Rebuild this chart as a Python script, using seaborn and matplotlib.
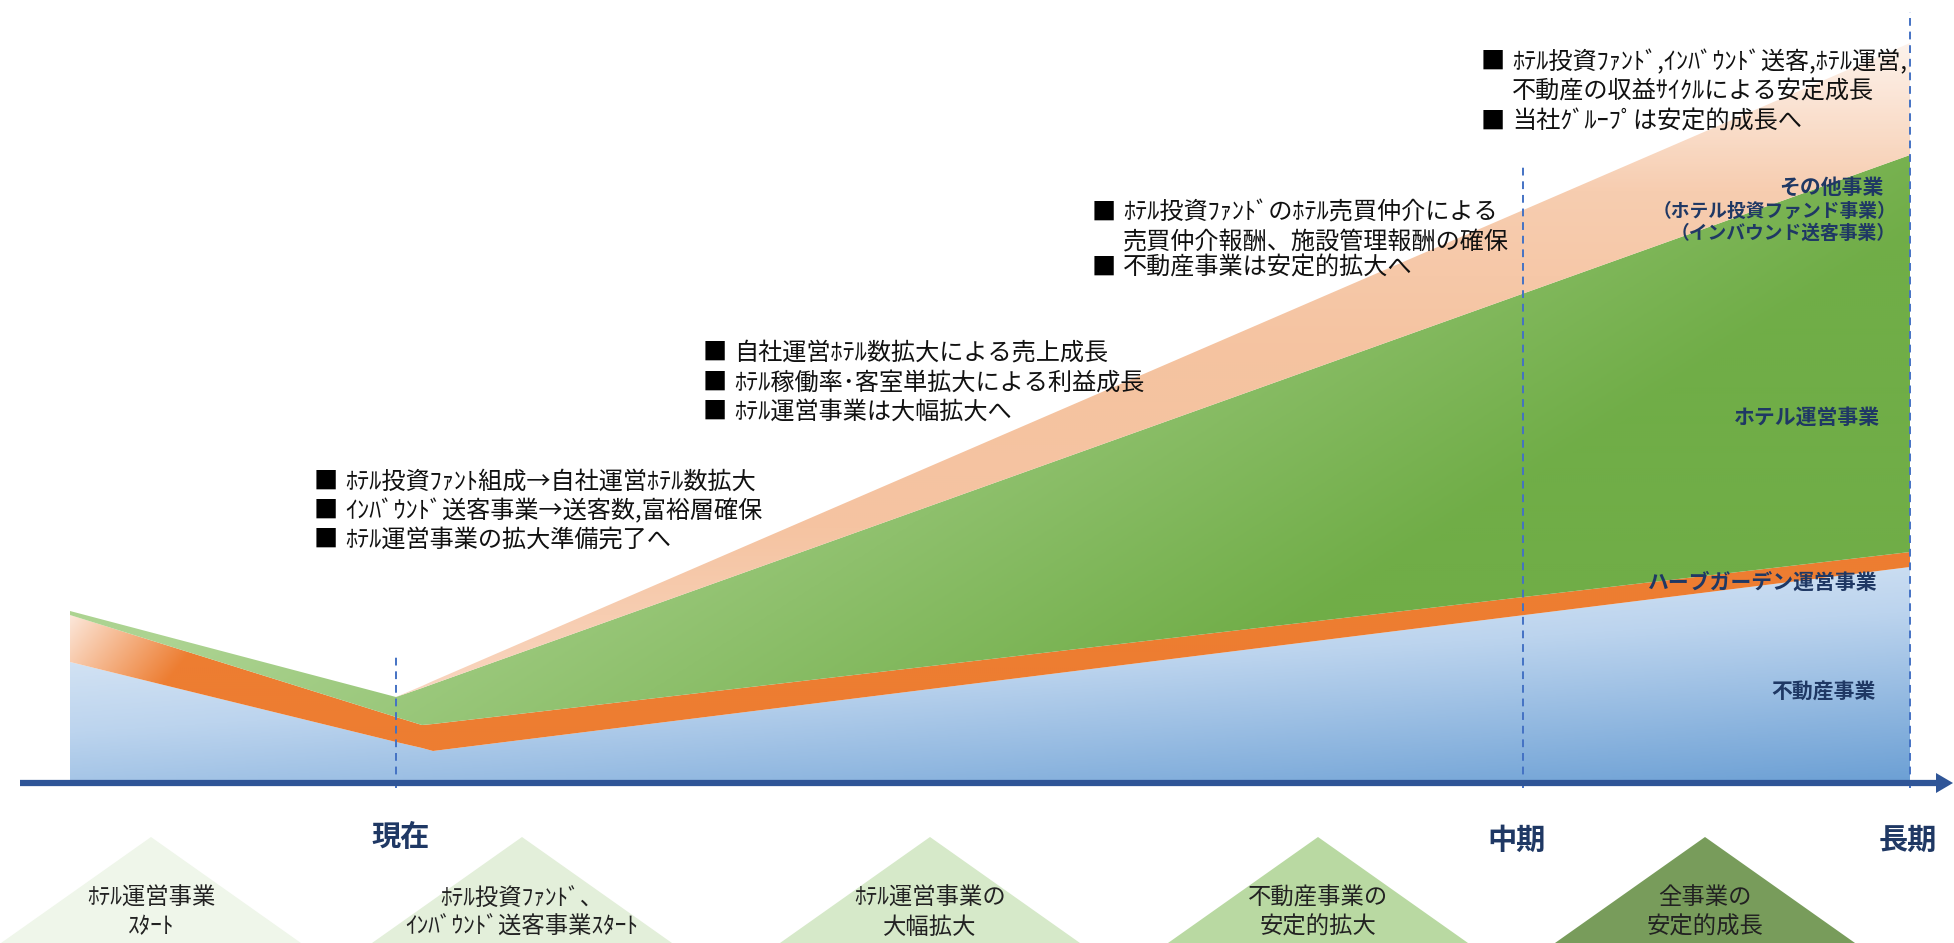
import numpy as np
import matplotlib.pyplot as plt
import seaborn as sns

sns.set_theme(style="white")
plt.rcParams['font.family'] = ['Noto Sans CJK JP', 'DejaVu Sans']

# -------------------------
# data: stacked business layers (height above the time axis)
# -------------------------
timeline = [70, 396, 422, 433, 1910]
real_estate = [121, 41, 35, 32, 216]     # 不動産事業
herb_garden = [47, 25, 23, 27, 15]       # ハーブガーデン運営事業
hotel_ops = [4, 20, 37, 40, 397]         # ホテル運営事業
other_biz = [0, 0, 2, 3, 112]            # その他事業

milestone_x = [396, 1523, 1910]
milestone_top = [130, 621, 771]
milestone_labels = ["現在", "中期", "長期"]
milestone_label_x = [401, 1517, 1908]

stage_x = [151, 522, 930, 1318, 1705]
stage_labels = ["ﾎﾃﾙ運営事業\nｽﾀｰﾄ", "ﾎﾃﾙ投資ﾌｧﾝﾄﾞ、\nｲﾝﾊﾞｳﾝﾄﾞ送客事業ｽﾀｰﾄ",
                "ﾎﾃﾙ運営事業の\n大幅拡大", "不動産事業の\n安定的拡大", "全事業の\n安定的成長"]
stage_colors = ["#eff6ea", "#e3efda", "#d6e9c9", "#b9d9a2", "#789c5b"]

block_x = [316, 705, 1094, 1483]
block_y = [[301, 272, 243], [430, 400, 371], [570, 541, 515], [721, 691, 661]]
block_lines = [
    [("■", "ﾎﾃﾙ投資ﾌｧﾝﾄ組成→自社運営ﾎﾃﾙ数拡大"),
     ("■", "ｲﾝﾊﾞｳﾝﾄﾞ送客事業→送客数,富裕層確保"),
     ("■", "ﾎﾃﾙ運営事業の拡大準備完了へ")],
    [("■", "自社運営ﾎﾃﾙ数拡大による売上成長"),
     ("■", "ﾎﾃﾙ稼働率･客室単拡大による利益成長"),
     ("■", "ﾎﾃﾙ運営事業は大幅拡大へ")],
    [("■", "ﾎﾃﾙ投資ﾌｧﾝﾄﾞのﾎﾃﾙ売買仲介による"),
     ("", "売買仲介報酬、施設管理報酬の確保"),
     ("■", "不動産事業は安定的拡大へ")],
    [("■", "ﾎﾃﾙ投資ﾌｧﾝﾄﾞ,ｲﾝﾊﾞｳﾝﾄﾞ送客,ﾎﾃﾙ運営,"),
     ("", "不動産の収益ｻｲｸﾙによる安定成長"),
     ("■", "当社ｸﾞﾙｰﾌﾟは安定的成長へ")],
]

layer_labels = ["その他事業", "（ホテル投資ファンド事業）", "（インバウンド送客事業）",
                "ホテル運営事業", "ハーブガーデン運営事業", "不動産事業"]
layer_label_y = [596, 572, 550, 366, 201, 91]
layer_label_x = [1884, 1896, 1896, 1880, 1878, 1876]
layer_label_size = [15, 13.5, 13.5, 15, 15, 15]

NAVY = "#1f3864"
BASE = 783  # pixel row of the time axis

# -------------------------
# figure
# -------------------------
fig = plt.figure(figsize=(19.54, 9.43), dpi=100)
ax = fig.add_axes([0, 0, 1, 1])
ax.set_xlim(0, 1954)
ax.set_ylim(-160, 783)
ax.axis("off")

tops = np.cumsum([real_estate, herb_garden, hotel_ops, other_biz], axis=0)
lowers = [np.zeros(len(timeline)), tops[0], tops[1], tops[2]]

xs = np.linspace(0, 1954, 977)
ys = np.linspace(783, -160, 472)
PX, Y = np.meshgrid(xs, ys)
PY = BASE - Y


def gradient_layer(lower, upper, colors, t, z):
    poly = ax.fill_between(timeline, lower, upper, facecolor="none", edgecolor="none")
    cmap = sns.blend_palette(colors, as_cmap=True)
    im = ax.imshow(np.clip(t, 0, 1), cmap=cmap, vmin=0, vmax=1,
                   extent=[0, 1954, -160, 783], origin="upper",
                   aspect="auto", zorder=z, interpolation="bilinear")
    im.set_clip_path(poly.get_paths()[0], transform=ax.transData)


gradient_layer(lowers[0], tops[0], ["#f1f6fb", "#bcd4ee", "#6b9fd4"],
               0.65 * (PY - 560) / 225 + 0.35 * (PX - 70) / 1840, 1)
gradient_layer(lowers[1], tops[1], ["#fce7da", "#ed7d31"],
               ((PX - 70) + 0.8 * (PY - 615)) / 150, 1)
gradient_layer(lowers[2], tops[2], ["#acd391", "#70ad47"],
               (PX - 400) / 1100 + (PY - 500) / 700, 1)
gradient_layer(lowers[3], tops[3], ["#fef8f4", "#f7cdb0", "#f5c3a0", "#f5c4a2", "#f9d6c0"],
               (PY - 20) / 680, 1)

ax.set_xlim(0, 1954)
ax.set_ylim(-160, 783)

# milestone dashed lines
for mx, mt in zip(milestone_x, milestone_top):
    ax.plot([mx, mx], [-5, mt], color="#4472c4", lw=1.4, ls=(0, (4, 3)), zorder=3)

# time axis with arrow
ax.plot([20, 1938], [0, 0], color="#2f5597", lw=4.5, solid_capstyle="butt", zorder=4)
ax.fill([1936, 1953, 1936], [10, 0, -10], color="#2f5597", zorder=4, lw=0)

for lx, lab in zip(milestone_label_x, milestone_labels):
    y = -54 if lab == "現在" else -57
    ax.text(lx, y, lab, ha="center", va="center", fontsize=21, fontweight="bold",
            color=NAVY, zorder=5)

# stage triangles
for sx, lab, col in zip(stage_x, stage_labels, stage_colors):
    ax.fill([sx - 150, sx, sx + 150], [-160, -54, -160], color=col, lw=0, zorder=2)
    l1, l2 = lab.split("\n")
    ax.text(sx, -115, l1, ha="center", va="center", fontsize=16.8, color="#222222", zorder=5)
    ax.text(sx, -144, l2, ha="center", va="center", fontsize=16.8, color="#222222", zorder=5)

# annotation blocks
for bx, bys, lines in zip(block_x, block_y, block_lines):
    for by, (bullet, txt) in zip(bys, lines):
        if bullet:
            ax.text(bx - 2, by, bullet, ha="left", va="center", fontsize=17.4,
                    color="black", zorder=5)
        ax.text(bx + 29, by, txt, ha="left", va="center", fontsize=17.4,
                color="#111111", zorder=5)

# layer labels
for lx, ly, lab, fs in zip(layer_label_x, layer_label_y, layer_labels, layer_label_size):
    ax.text(lx, ly, lab, ha="right", va="center", fontsize=fs, fontweight="bold",
            color=NAVY, zorder=5)

fig.savefig("out.png", dpi=100)
